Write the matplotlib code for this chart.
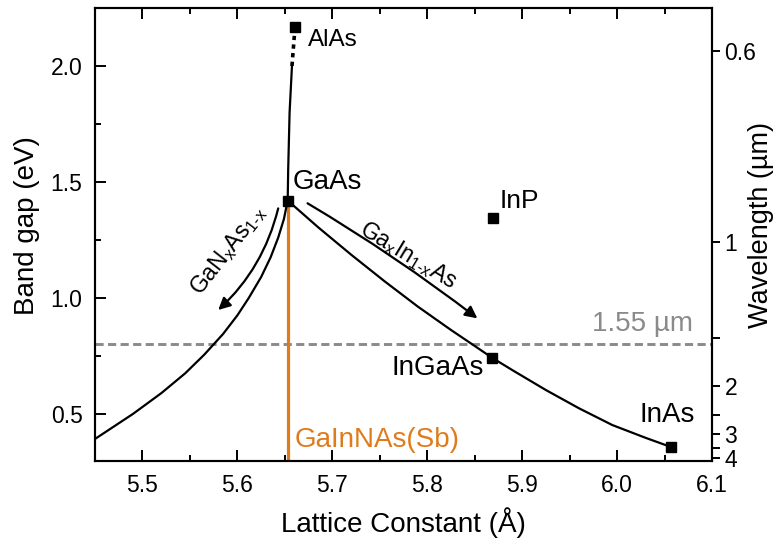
import matplotlib
matplotlib.use("Agg")
import matplotlib.pyplot as plt
from matplotlib.ticker import MultipleLocator, FixedLocator

plt.rcParams['font.family'] = ['Liberation Sans', 'DejaVu Sans']
plt.rcParams['mathtext.fontset'] = 'custom'
plt.rcParams['mathtext.rm'] = 'Liberation Sans'
plt.rcParams['mathtext.it'] = 'Liberation Sans'

# ---- Data ----
gainas_x = [5.653, 5.685, 5.72, 5.755, 5.79, 5.825, 5.85, 5.868,
            5.89, 5.925, 5.96, 5.995, 6.03, 6.057]
gainas_e = [1.42, 1.305, 1.186, 1.072, 0.963, 0.862, 0.793, 0.743,
            0.688, 0.603, 0.524, 0.452, 0.397, 0.357]

ganas_x = [5.45, 5.49, 5.52, 5.545, 5.565, 5.585, 5.60, 5.612,
           5.625, 5.635, 5.643, 5.649, 5.653]
ganas_e = [0.392, 0.50, 0.59, 0.675, 0.755, 0.845, 0.925, 1.0,
           1.09, 1.175, 1.26, 1.34, 1.42]

algaas_solid_x = [5.653, 5.6535, 5.655, 5.6575]
algaas_solid_e = [1.42, 1.55, 1.80, 2.00]
algaas_dot_x = [5.6575, 5.660]
algaas_dot_e = [2.00, 2.13]

point_names = ['GaAs', 'AlAs', 'InP', 'InGaAs', 'InAs']
point_x = [5.653, 5.6605, 5.869, 5.868, 6.057]
point_e = [1.42, 2.17, 1.343, 0.743, 0.357]

telecom_e = 0.80   # 1.55 um line
gainnas_x = 5.653

right_major = [0.6, 1, 2, 3, 4]
right_minor = [1.5, 2.5, 3.5]

fig = plt.figure(figsize=(7.82, 5.42), dpi=100)
ax = fig.add_axes([95/782, 1-461/542, (712-95)/782, (461-8)/542])

orange = '#E07B1C'
gray = '#8A8A8A'

ax.axhline(telecom_e, color=gray, lw=2.1, ls=(0, (2.8, 1.5)), zorder=1)
ax.plot([gainnas_x, gainnas_x], [0.0, point_e[0]], color=orange, lw=2.3, zorder=2)
ax.plot(gainas_x, gainas_e, color='black', lw=1.6, zorder=3)
ax.plot(ganas_x, ganas_e, color='black', lw=1.6, zorder=3)
ax.plot(algaas_solid_x, algaas_solid_e, color='black', lw=1.6, zorder=3)
ax.plot(algaas_dot_x, algaas_dot_e, color='black', lw=2.6, ls=(0, (1.2, 1.2)), zorder=3)
ax.plot(point_x, point_e, 's', color='black', ms=7.5, ls='none', zorder=4)

ax.set_xlim(5.45, 6.1)
ax.set_ylim(0.297, 2.25)
ax.xaxis.set_major_locator(MultipleLocator(0.1))
ax.xaxis.set_minor_locator(MultipleLocator(0.05))
ax.yaxis.set_minor_locator(MultipleLocator(0.25))
ax.set_yticks([0.5, 1.0, 1.5, 2.0])
ax.set_yticklabels(['0.5', '1.0', '1.5', '2.0'])
ax.tick_params(axis='both', which='major', direction='in', length=8, width=1.4, labelsize=16.5, pad=9)
ax.tick_params(axis='both', which='minor', direction='in', length=4.5, width=1.4)
ax.tick_params(axis='x', which='both', top=True)
for s in ax.spines.values():
    s.set_linewidth(1.5)

ax.set_xlabel('Lattice Constant (Å)', fontsize=20)
ax.xaxis.set_label_coords(0.5, -0.103)
ax.set_ylabel('Band gap (eV)', fontsize=20)
ax.yaxis.set_label_coords(-0.089, 0.52)

# right axis: wavelength
ax2 = ax.twinx()
ax2.set_ylim(ax.get_ylim())
ax2.yaxis.set_major_locator(FixedLocator([1.24 / w for w in right_major]))
ax2.set_yticklabels([str(w) for w in right_major])
ax2.yaxis.set_minor_locator(FixedLocator([1.24 / w for w in right_minor]))
ax2.tick_params(axis='y', which='major', direction='out', length=6, width=1.4, labelsize=16.5, pad=3)
ax2.tick_params(axis='y', which='minor', direction='out', length=6, width=1.4)
ax2.set_ylabel('Wavelength (µm)', fontsize=19.5)
ax2.yaxis.set_label_coords(1.058, 0.52)
for s in ax2.spines.values():
    s.set_linewidth(1.5)

# text labels
ax.text(5.6742, 2.112, 'AlAs', fontsize=17.5, va='center', ha='left')
ax.text(5.6584, 1.50, 'GaAs', fontsize=20, va='center', ha='left')
ax.text(5.8763, 1.418, 'InP', fontsize=19, va='center', ha='left')
ax.text(5.8595, 0.698, 'InGaAs', fontsize=20, va='center', ha='right')
ax.text(6.0816, 0.495, 'InAs', fontsize=20, va='center', ha='right')
ax.text(6.0795, 0.888, '1.55 µm', fontsize=20, va='center', ha='right', color=gray)
ax.text(5.6605, 0.3875, 'GaInNAs(Sb)', fontsize=20, va='center', ha='left', color=orange)

ax.text(5.5903, 1.206, r'GaN$_x$As$_{1\text{-}x}$', fontsize=16.5, rotation=52,
        va='center', ha='center', rotation_mode='anchor')
ax.text(5.7798, 1.185, r'Ga$_x$In$_{1\text{-}x}$As', fontsize=16.5, rotation=-31,
        va='center', ha='center', rotation_mode='anchor')

ax.annotate('', xy=(5.5798, 0.948), xytext=(5.643, 1.386),
            arrowprops=dict(arrowstyle='-|>', color='black', lw=1.6, shrinkA=0, shrinkB=0,
                            connectionstyle='arc3,rad=-0.15', mutation_scale=18))
ax.annotate('', xy=(5.8528, 0.912), xytext=(5.6739, 1.408),
            arrowprops=dict(arrowstyle='-|>', color='black', lw=1.6, shrinkA=0, shrinkB=0,
                            connectionstyle='arc3,rad=-0.03', mutation_scale=18))

fig.savefig('out.png', dpi=100)
